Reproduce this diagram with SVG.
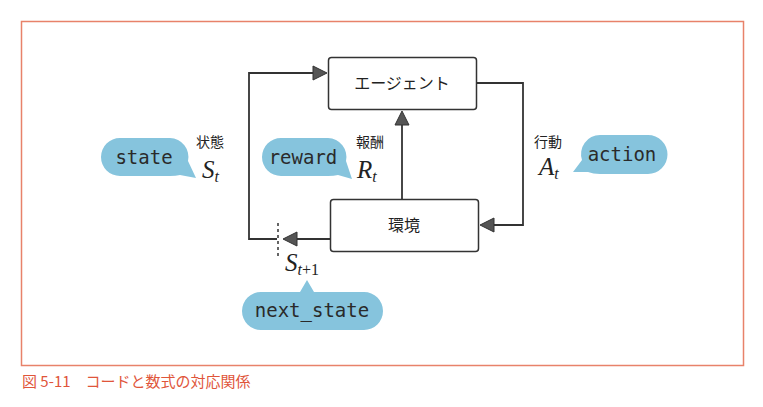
<svg xmlns="http://www.w3.org/2000/svg" width="763" height="407" viewBox="0 0 763 407">
<defs>
<style>
.box{fill:#fff;stroke:#333;stroke-width:1.5}
.ln{fill:none;stroke:#333;stroke-width:1.8}
.ah{fill:#555;stroke:#333;stroke-width:1;stroke-linejoin:round}
.jp{font-family:"Noto Sans CJK JP","Noto Sans",sans-serif;fill:#222}
.code{font-family:"DejaVu Sans Mono","Liberation Mono",monospace;font-size:19px;fill:#2a2a2a}
.math{font-family:"Liberation Serif","DejaVu Serif",serif;font-style:italic;fill:#222}
.up{font-style:normal}
.bub{fill:#86c4dd}
</style>
</defs>
<rect x="21.5" y="21.5" width="722" height="344" fill="#fff" stroke="#e8826a" stroke-width="1.5"/>
<g id="connectors">
<path class="ln" d="M313,73 H249 V239 H277"/>
<polygon class="ah" points="327,73 313,66 313,80"/>
<path class="ln" d="M476,83 H523 V225 H494"/>
<polygon class="ah" points="480,225 494,218 494,232"/>
<path class="ln" d="M402,199 V125"/>
<polygon class="ah" points="402,111 395,125 409,125"/>
<path class="ln" d="M330,239 H297"/>
<polygon class="ah" points="283,239 297,232 297,246"/>
<path d="M278,223 V256" stroke="#333" stroke-width="1.5" stroke-dasharray="3,3"/>
</g>
<g id="agent">
<rect class="box" x="328.5" y="57.5" width="148" height="52" rx="3"/>
<text class="jp" x="402" y="89" font-size="16" text-anchor="middle">エージェント</text>
</g>
<g id="env">
<rect class="box" x="330.5" y="199.5" width="148" height="52" rx="3"/>
<text class="jp" x="404" y="231" font-size="16" text-anchor="middle">環境</text>
</g>
<g id="state-label">
<path class="bub" d="M120,138 H170 A19,19 0 0 1 188,161 L196,178 L180,175 Q176,176 170,176 H120 A19,19 0 0 1 120,138 Z"/>
<text class="code" x="144" y="164" text-anchor="middle">state</text>
<text class="jp" x="210" y="147" font-size="14" text-anchor="middle">状態</text>
<text class="math" x="202" y="178" font-size="25">S<tspan font-size="16" dy="4">t</tspan></text>
</g>
<g id="reward-label">
<path class="bub" d="M281,138 H328 A19,19 0 0 1 346,161 L352,179 L338,175 Q334,176 328,176 H281 A19,19 0 0 1 281,138 Z"/>
<text class="code" x="303" y="164" text-anchor="middle">reward</text>
<text class="jp" x="370" y="147" font-size="14" text-anchor="middle">報酬</text>
<text class="math" x="357" y="178" font-size="25">R<tspan font-size="16" dy="4">t</tspan></text>
</g>
<g id="action-label">
<path class="bub" d="M600,135 H648 A19,19 0 0 1 648,174 H600 Q593,174 588,172 L573,172 L582,160 A19,19 0 0 1 600,135 Z"/>
<text class="code" x="622" y="161" text-anchor="middle">action</text>
<text class="jp" x="548" y="147" font-size="14" text-anchor="middle">行動</text>
<text class="math" x="539" y="175" font-size="25">A<tspan font-size="16" dy="4">t</tspan></text>
</g>
<g id="next-state-label">
<path class="bub" d="M261,292 H300 L307,280 L314,292 H364 A19,19 0 0 1 364,330 H261 A19,19 0 0 1 261,292 Z"/>
<text class="code" x="312" y="317" text-anchor="middle">next_state</text>
<text class="math" x="285" y="271" font-size="25">S<tspan font-size="16" dy="4">t<tspan class="up">+1</tspan></tspan></text>
</g>
<text x="22" y="387" font-family="'Noto Sans CJK JP','Noto Sans',sans-serif" font-size="15" fill="#e0553a">図 5-11　コードと数式の対応関係</text>
</svg>
